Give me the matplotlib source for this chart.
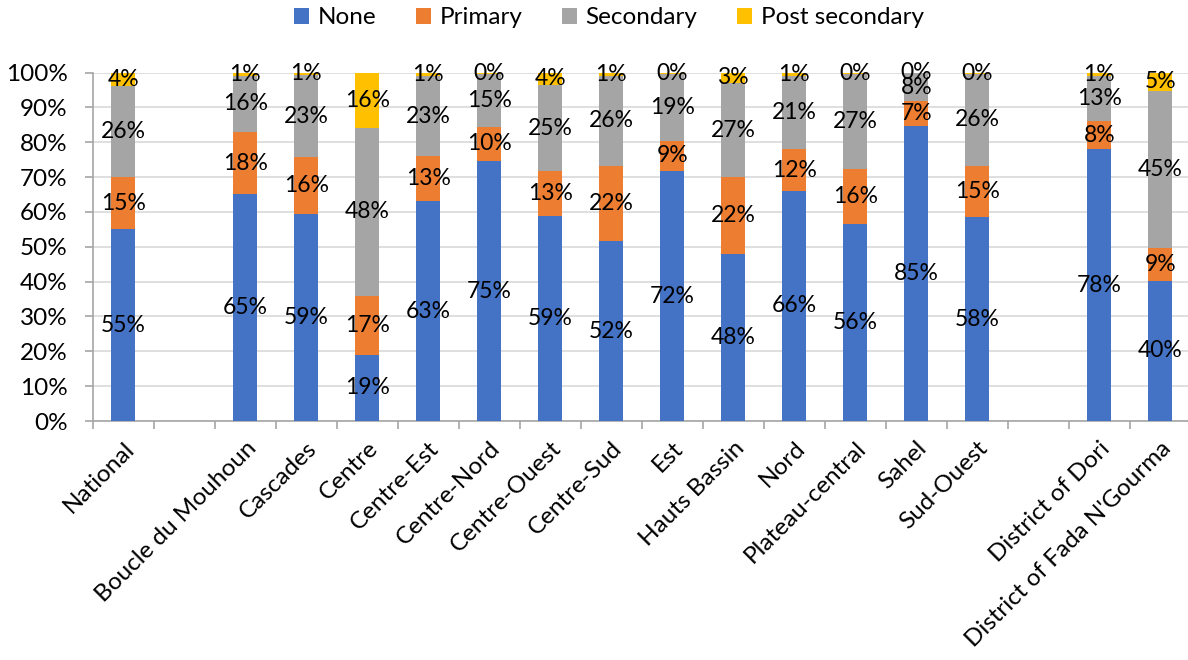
import matplotlib
matplotlib.use("Agg")
import matplotlib.pyplot as plt
import numpy as np

plt.rcParams["font.family"] = ["Lato", "DejaVu Sans"]

categories = ["National", "", "Boucle du Mouhoun", "Cascades", "Centre", "Centre-Est",
              "Centre-Nord", "Centre-Ouest", "Centre-Sud", "Est", "Hauts Bassin", "Nord",
              "Plateau-central", "Sahel", "Sud-Ouest", "", "District of Dori",
              "District of Fada N'Gourma"]

# Share of each education level (%), None for spacer columns
none_pct =      [55, None, 65, 59.4, 19, 63, 74.6, 58.8, 51.6, 71.7, 48, 66, 56.4, 84.7, 58.4, None, 78, 40.3]
primary_pct =   [15, None, 18, 16.4, 17, 13, 9.8, 12.8, 21.6, 8.7, 22, 12, 16.0, 7.1, 14.8, None, 8, 9.2]
secondary_pct = [26, None, 16, 23.4, 48, 23, 15.3, 24.8, 25.9, 19.3, 27, 21, 27.3, 8.0, 26.4, None, 13, 45.3]
post_pct =      [4, None, 1, 0.8, 16, 1, 0.3, 3.6, 0.9, 0.3, 3, 1, 0.3, 0.2, 0.4, None, 1, 5.2]

series = [("None", none_pct, "#4472C4"),
          ("Primary", primary_pct, "#ED7D31"),
          ("Secondary", secondary_pct, "#A5A5A5"),
          ("Post secondary", post_pct, "#FFC000")]

fig = plt.figure(figsize=(11.88, 6.6), dpi=100)
ax = fig.add_axes([92.7 / 1188, 1 - 421 / 660, 1098 / 1188, (421 - 72.5) / 660])

x = np.arange(len(categories))
bottom = np.zeros(len(categories))
handles = []
for name, vals, color in series:
    v = np.array([np.nan if a is None else a for a in vals], dtype=float)
    mask = ~np.isnan(v)
    h = ax.bar(x[mask], v[mask], width=0.4, bottom=bottom[mask], color=color,
               label=name, zorder=3)
    handles.append(h)
    for xi, vi, bi in zip(x[mask], v[mask], bottom[mask]):
        ax.text(xi, bi + vi / 2, f"{vi:.0f}%", ha="center", va="center",
                fontsize=16.5, color="black", zorder=4)
    bottom[mask] += v[mask]

ax.set_xlim(-0.5, len(categories) - 0.5)
ax.set_ylim(0, 100)
ax.set_yticks(np.arange(0, 101, 10))
ax.set_yticklabels([f"{t}%" for t in range(0, 101, 10)], fontsize=17.5)
ax.yaxis.grid(True, color="#D9D9D9", linewidth=1.2, zorder=0)

ax.set_xticks(np.arange(len(categories) + 1) - 0.5)
ax.set_xticklabels([])
ax.set_xticks(x, minor=True)
ax.set_xticklabels(categories, minor=True, rotation=45, ha="right",
                   rotation_mode="anchor", fontsize=17.5)
ax.tick_params(axis="x", which="minor", length=0, pad=12)
ax.tick_params(axis="x", which="major", length=6, color="#A6A6A6", width=1.2)
ax.tick_params(axis="y", length=6, color="#A6A6A6", width=1.2, pad=12)

for side in ["top", "right"]:
    ax.spines[side].set_visible(False)
for side in ["left", "bottom"]:
    ax.spines[side].set_color("#A6A6A6")
    ax.spines[side].set_linewidth(1.2)

fig.legend(handles=handles, loc="center", bbox_to_anchor=(609 / 1188, 1 - 18 / 660),
           ncol=4, frameon=False, fontsize=17.5, handlelength=0.6, handleheight=0.6,
           handletextpad=0.35, columnspacing=1.65)

fig.savefig("out.png", dpi=100)
